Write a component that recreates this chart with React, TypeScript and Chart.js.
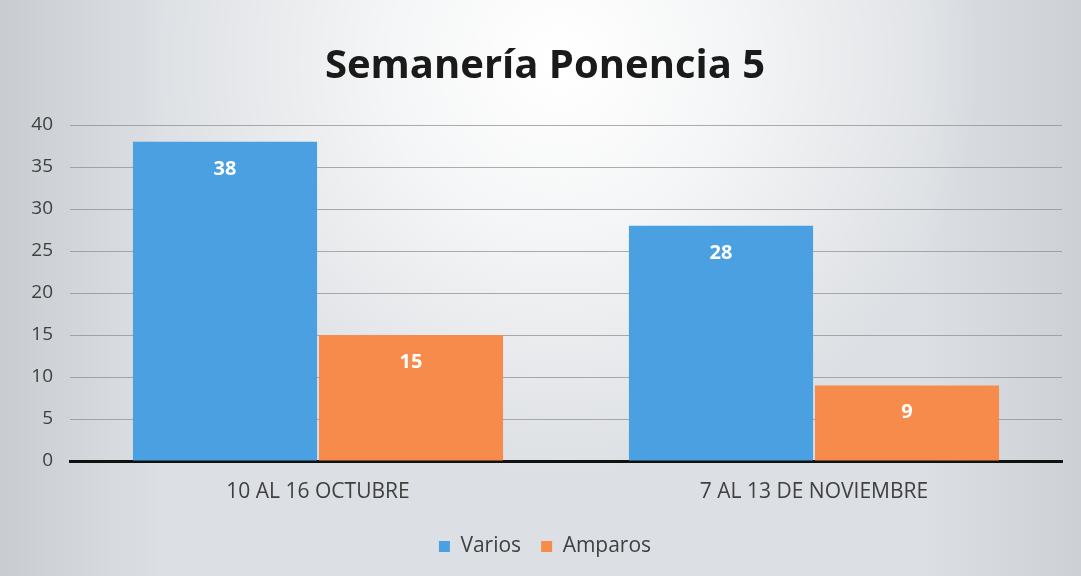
import React, { useEffect, useRef } from "react";
import { Chart, registerables } from "chart.js";

Chart.register(...registerables);

const categories = ["10 AL 16 OCTUBRE", "7 AL 13 DE NOVIEMBRE"];
const varios = [38, 28];
const amparos = [15, 9];
const seriesNames = ["Varios", "Amparos"];
const titleText = "Semanería Ponencia 5";

const FONT = "'Open Sans', 'Noto Sans', sans-serif";

const bgPlugin = {
  id: "bg",
  beforeDraw(chart: any) {
    const { ctx, width, height } = chart;
    ctx.save();
    const lg = ctx.createLinearGradient(0, 0, width, 0);
    lg.addColorStop(0, "#c9cdd1");
    lg.addColorStop(0.15, "#dcdfe3");
    lg.addColorStop(0.85, "#dcdfe3");
    lg.addColorStop(1, "#cdd1d5");
    ctx.fillStyle = lg;
    ctx.fillRect(0, 0, width, height);
    const rg = ctx.createRadialGradient(560, 60, 10, 560, 60, 420);
    rg.addColorStop(0, "rgba(255,255,255,1)");
    rg.addColorStop(0.4, "rgba(255,255,255,0.7)");
    rg.addColorStop(1, "rgba(255,255,255,0)");
    ctx.fillStyle = rg;
    ctx.fillRect(0, 0, width, height);
    ctx.restore();
  },
};

const labelPlugin = {
  id: "vals",
  afterDatasetsDraw(chart: any) {
    const { ctx } = chart;
    ctx.save();
    ctx.fillStyle = "#ffffff";
    ctx.font = `bold 20px ${FONT}`;
    ctx.textAlign = "center";
    ctx.textBaseline = "middle";
    chart.data.datasets.forEach((ds: any, i: number) => {
      const meta = chart.getDatasetMeta(i);
      meta.data.forEach((bar: any, j: number) => {
        ctx.fillText(String(ds.data[j]), bar.x, bar.y + 27);
      });
    });
    ctx.restore();
  },
};

export default function App() {
  const ref = useRef<HTMLCanvasElement>(null);
  useEffect(() => {
    document.body.style.margin = "0";
    const chart = new Chart(ref.current!, {
      type: "bar",
      data: {
        labels: categories,
        datasets: [
          { label: seriesNames[0], data: varios, backgroundColor: "#4ba0e2" },
          { label: seriesNames[1], data: amparos, backgroundColor: "#f78b4c" },
        ],
      },
      options: {
        responsive: false,
        animation: false,
        devicePixelRatio: 1,
        layout: { padding: { left: 28, right: 19, top: 0, bottom: 9 } },
        datasets: {
          bar: { barPercentage: 0.99, categoryPercentage: 0.75 },
        } as any,
        plugins: {
          title: {
            display: true,
            text: titleText,
            color: "#1a1a1a",
            font: { family: FONT, size: 40, weight: "bold" },
            padding: { top: 43, bottom: 34 },
          },
          legend: {
            position: "bottom",
            labels: {
              color: "#404040",
              font: { family: FONT, size: 21 },
              boxWidth: 11,
              boxHeight: 11,
              padding: 20,
            },
          },
          tooltip: { enabled: false },
        },
        scales: {
          x: {
            grid: { display: false },
            border: { display: true, color: "#111111", width: 3 },
            ticks: { color: "#404040", font: { family: FONT, size: 21 }, padding: 10 },
            afterFit(s: any) {
              s.height = 55;
            },
          },
          y: {
            min: 0,
            max: 40,
            ticks: { stepSize: 5, color: "#404040", font: { family: FONT, size: 19 }, padding: 17 },
            grid: { color: "rgba(140,140,140,0.7)", lineWidth: 1, drawTicks: false },
            border: { display: false },
            afterFit(s: any) {
              s.width = 42;
            },
          },
        },
      },
      plugins: [bgPlugin, labelPlugin],
    });
    return () => chart.destroy();
  }, []);
  return <canvas ref={ref} width={1081} height={576} style={{ display: "block" }} />;
}
